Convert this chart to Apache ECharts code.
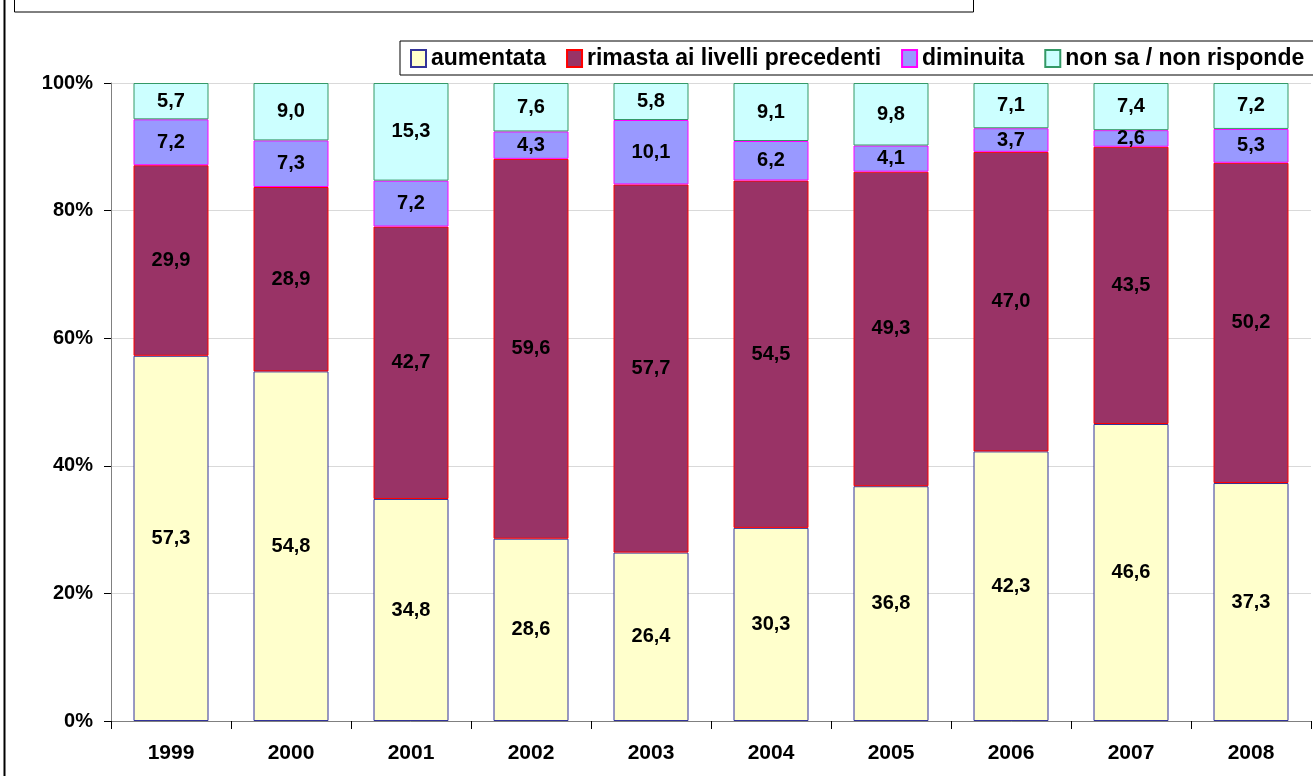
<!DOCTYPE html>
<html>
<head>
<meta charset="utf-8">
<script src="https://cdn.jsdelivr.net/npm/echarts@6/dist/echarts.min.js"></script>
<style>
  html, body { margin: 0; padding: 0; background: #fff; }
  #main { width: 1313px; height: 776px; }
</style>
</head>
<body>
<div id="main"></div>
<script>
// chart data
const years = ["1999", "2000", "2001", "2002", "2003", "2004", "2005", "2006", "2007", "2008"];
const aumentata = [57.3, 54.8, 34.8, 28.6, 26.4, 30.3, 36.8, 42.3, 46.6, 37.3];
const rimasta = [29.9, 28.9, 42.7, 59.6, 57.7, 54.5, 49.3, 47.0, 43.5, 50.2];
const diminuita = [7.2, 7.3, 7.2, 4.3, 10.1, 6.2, 4.1, 3.7, 2.6, 5.3];
const nonSa = [5.7, 9.0, 15.3, 7.6, 5.8, 9.1, 9.8, 7.1, 7.4, 7.2];
const yTicks = [0, 20, 40, 60, 80, 100];

const groups = [
  { name: "aumentata", values: aumentata, fill: "#FFFFCC", border: "#333399" },
  { name: "rimasta ai livelli precedenti", values: rimasta, fill: "#993366", border: "#FF0000" },
  { name: "diminuita", values: diminuita, fill: "#9999FF", border: "#FF00FF" },
  { name: "non sa / non risponde", values: nonSa, fill: "#CCFFFF", border: "#339966" },
];

// 100% stacked: each column scaled to its own total
const totals = years.map(function (y, i) {
  return groups.reduce(function (s, g) { return s + g.values[i]; }, 0);
});

var myChart = echarts.init(document.getElementById("main"));

var option = {
  animation: false,
  textStyle: { fontFamily: "Liberation Sans, Arial, sans-serif" },
  graphic: [
    { type: "line", shape: { x1: 4.5, y1: 0, x2: 4.5, y2: 776 }, style: { stroke: "#000", lineWidth: 2 } },
    { type: "rect", shape: { x: 14.5, y: -10, width: 959, height: 22 }, style: { fill: "none", stroke: "#000", lineWidth: 1 } },
  ],
  legend: {
    left: 400,
    top: 41,
    width: 1000,
    padding: [6, 10, 5, 10],
    itemGap: 20,
    itemWidth: 15,
    itemHeight: 17,
    icon: "rect",
    borderColor: "#000",
    borderWidth: 1,
    textStyle: { fontSize: 23, fontWeight: "bold", color: "#000" },
    data: groups.map(function (g) { return g.name; }),
  },
  grid: { left: 111, right: 2, top: 83, bottom: 55 },
  xAxis: {
    type: "category",
    data: years,
    axisLine: { lineStyle: { color: "#808080", width: 1 } },
    axisTick: { show: true, length: 8, lineStyle: { color: "#000" } },
    axisLabel: { fontSize: 21, fontWeight: "bold", color: "#000", margin: 22 },
  },
  yAxis: {
    type: "value",
    min: 0,
    max: 100,
    interval: 20,
    axisLine: { show: true, lineStyle: { color: "#808080" } },
    axisTick: { show: true, length: 7, lineStyle: { color: "#000" } },
    axisLabel: {
      fontSize: 20,
      fontWeight: "bold",
      color: "#000",
      margin: 18,
      formatter: function (v) { return yTicks.indexOf(v) >= 0 ? v + "%" : ""; },
    },
    splitLine: { show: true, lineStyle: { color: "#D9D9D9", width: 1 } },
  },
  series: groups.map(function (g) {
    return {
      name: g.name,
      type: "bar",
      stack: "tot",
      barWidth: "62.5%",
      itemStyle: { color: g.fill, borderColor: g.border, borderWidth: 1 },
      label: {
        show: true,
        position: "inside",
        fontSize: 20,
        fontWeight: "bold",
        color: "#000",
        formatter: function (p) { return g.values[p.dataIndex].toFixed(1).replace(".", ","); },
      },
      data: g.values.map(function (v, i) { return (v / totals[i]) * 100; }),
    };
  }),
};

myChart.setOption(option);
</script>
</body>
</html>
